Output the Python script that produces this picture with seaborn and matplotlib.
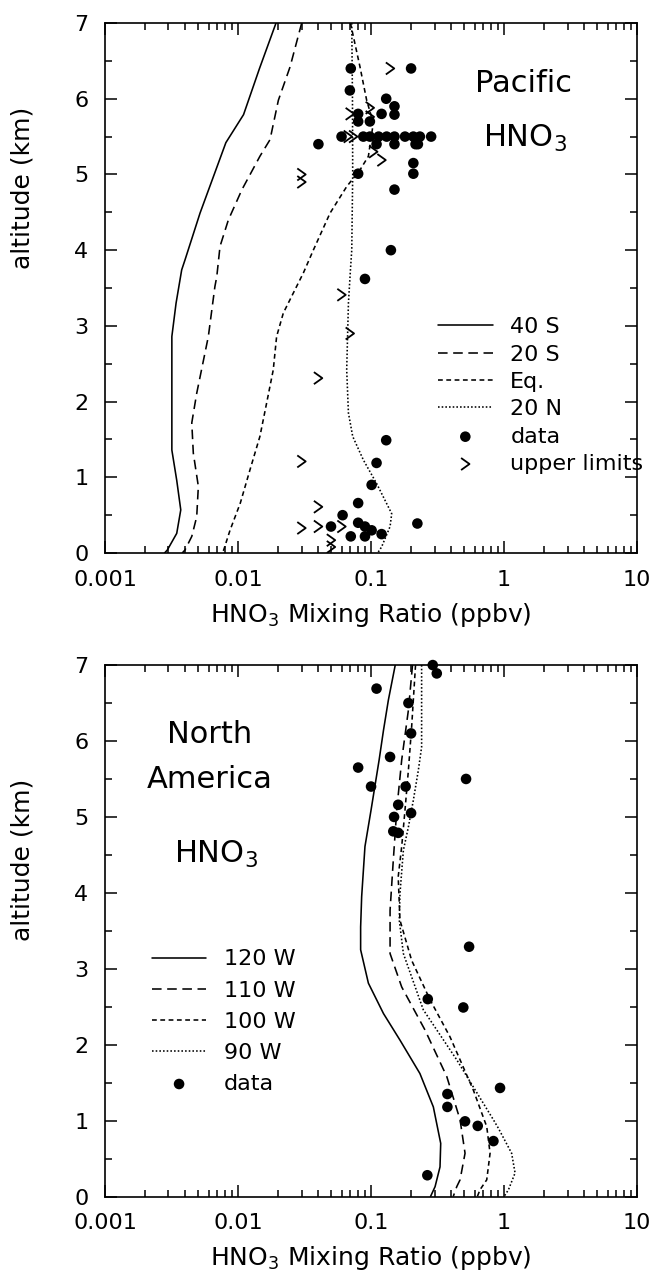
import numpy as np
import pandas as pd
import matplotlib
matplotlib.use("Agg")
import matplotlib.pyplot as plt
from matplotlib.path import Path
from matplotlib.markers import MarkerStyle
from matplotlib.ticker import LogLocator, MultipleLocator, NullFormatter
import seaborn as sns

# ---------------- data ----------------
x_ticks = [0.001, 0.01, 0.1, 1, 10]
x_tick_labels = ["0.001", "0.01", "0.1", "1", "10"]

# Pacific model profiles (altitude km, HNO3 ppbv)
alt_40S = [7.0, 6.40, 5.79, 5.42, 4.49, 3.87, 3.74, 3.30, 2.86, 1.36, 0.96, 0.57, 0.26, 0.04, 0.0]
mr_40S = [0.0193, 0.0145, 0.0110, 0.0081, 0.00518, 0.00399, 0.00377, 0.00342, 0.00318,
          0.00318, 0.00346, 0.00371, 0.00346, 0.00294, 0.0028]
alt_20S = [7.0, 6.42, 5.98, 5.46, 5.24, 4.80, 4.40, 4.05, 3.65, 3.52, 2.86, 2.11, 1.72,
           1.32, 0.88, 0.48, 0.22, 0.04, 0.0]
mr_20S = [0.0301, 0.0246, 0.0201, 0.0174, 0.0146, 0.0107, 0.00846, 0.00732, 0.00692,
          0.0067, 0.00598, 0.00489, 0.00449, 0.00461, 0.00503, 0.00489, 0.00449, 0.00399, 0.0038]
alt_Eq = [7.0, 6.42, 5.98, 5.68, 5.24, 5.06, 4.84, 4.49, 4.00, 3.70, 3.17, 2.86, 2.42,
          1.98, 1.54, 1.10, 0.66, 0.30, 0.04, 0.0]
mr_Eq = [0.070, 0.0826, 0.0927, 0.104, 0.0955, 0.0826, 0.0656, 0.0492, 0.0368, 0.031,
         0.0219, 0.0195, 0.0184, 0.0164, 0.0146, 0.0123, 0.0104, 0.0087, 0.0078, 0.0075]
alt_20N = [7.0, 6.0, 5.0, 4.0, 3.74, 3.30, 2.42, 1.85, 1.54, 1.23, 0.92, 0.52, 0.35, 0.08, 0.0]
mr_20N = [0.0716, 0.0725, 0.0728, 0.0716, 0.070, 0.0676, 0.0656, 0.0676, 0.0728, 0.0875,
          0.110, 0.143, 0.139, 0.120, 0.112]

# Pacific observations
pac_data_mr = [0.0704, 0.200, 0.0693, 0.130, 0.150, 0.150, 0.120, 0.080, 0.080, 0.098,
               0.060, 0.0875, 0.098, 0.114, 0.131, 0.150, 0.180, 0.208, 0.233, 0.283,
               0.0402, 0.110, 0.150, 0.216, 0.225,
               0.208, 0.208, 0.080, 0.150, 0.141, 0.090, 0.130, 0.110, 0.101, 0.080,
               0.0611, 0.050, 0.080, 0.090, 0.101, 0.0704, 0.090, 0.120, 0.223]
pac_data_alt = [6.40, 6.40, 6.11, 6.00, 5.90, 5.79, 5.80, 5.80, 5.70, 5.70,
                5.50, 5.50, 5.50, 5.50, 5.50, 5.50, 5.50, 5.50, 5.50, 5.50,
                5.40, 5.40, 5.40, 5.40, 5.40,
                5.15, 5.01, 5.01, 4.80, 4.00, 3.62, 1.49, 1.19, 0.90, 0.66,
                0.50, 0.35, 0.40, 0.35, 0.30, 0.22, 0.22, 0.25, 0.39]
pac_lim_mr = [0.139, 0.0693, 0.098, 0.098, 0.067, 0.0735, 0.104, 0.120, 0.030, 0.030,
              0.060, 0.0693, 0.040, 0.030, 0.040, 0.030, 0.040, 0.060, 0.050, 0.050]
pac_lim_alt = [6.40, 5.80, 5.88, 5.76, 5.50, 5.50, 5.30, 5.19, 5.00, 4.90,
               3.41, 2.90, 2.31, 1.21, 0.61, 0.33, 0.35, 0.35, 0.17, 0.08]

# North America model profiles
alt_120W = [7.0, 6.54, 6.14, 5.75, 5.09, 4.61, 3.95, 3.55, 3.25, 2.81, 2.41, 2.06, 1.62,
            1.18, 0.70, 0.39, 0.13, 0.0]
mr_120W = [0.152, 0.135, 0.124, 0.115, 0.100, 0.090, 0.085, 0.0835, 0.0835, 0.0955, 0.124,
           0.165, 0.233, 0.294, 0.334, 0.330, 0.303, 0.28]
alt_110W = [7.0, 6.41, 5.75, 5.09, 4.43, 3.77, 3.20, 2.76, 2.19, 1.58, 1.01, 0.57, 0.22, 0.13, 0.0]
mr_110W = [0.205, 0.191, 0.170, 0.156, 0.147, 0.139, 0.139, 0.170, 0.255, 0.371, 0.467,
           0.509, 0.467, 0.441, 0.415]
alt_100W = [7.0, 6.19, 5.62, 5.09, 4.61, 4.21, 3.64, 3.11, 2.59, 2.10, 1.40, 0.92, 0.57,
            0.22, 0.09, 0.0]
mr_100W = [0.216, 0.202, 0.191, 0.180, 0.170, 0.160, 0.165, 0.202, 0.278, 0.393, 0.588,
           0.741, 0.785, 0.741, 0.66, 0.63]
alt_90W = [7.0, 5.92, 5.62, 5.22, 4.87, 4.56, 3.99, 3.64, 3.20, 2.46, 1.80, 1.01, 0.90,
           0.57, 0.31, 0.09, 0.0]
mr_90W = [0.240, 0.240, 0.227, 0.208, 0.191, 0.175, 0.165, 0.163, 0.175, 0.247, 0.441,
          0.832, 0.906, 1.14, 1.21, 1.08, 1.0]

# North America observations
na_data_mr = [0.291, 0.312, 0.110, 0.191, 0.200, 0.139, 0.080, 0.518, 0.100, 0.182,
              0.160, 0.200, 0.149, 0.147, 0.160, 0.546, 0.267, 0.494, 0.933, 0.375,
              0.375, 0.509, 0.634, 0.832, 0.265]
na_data_alt = [7.0, 6.89, 6.69, 6.50, 6.10, 5.79, 5.65, 5.50, 5.40, 5.40,
               5.16, 5.05, 5.00, 4.81, 4.79, 3.29, 2.60, 2.49, 1.43, 1.35,
               1.18, 0.99, 0.93, 0.73, 0.28]

# ---------------- style ----------------
sns.set_style("ticks")
plt.rcParams["font.family"] = ["DejaVu Sans"]
plt.rcParams["mathtext.fontset"] = "dejavusans"
plt.rcParams["axes.linewidth"] = 1.2
for key in ["text.color", "axes.labelcolor", "xtick.color", "ytick.color", "axes.edgecolor"]:
    plt.rcParams[key] = "black"

LS_SOLID = "-"
LS_DASH = (0, (6, 3.5))
LS_FINE = (0, (3, 2.2))
LS_DOT = (0, (1, 1.3))

upper_path = Path([(-0.7, 1.0), (0.7, 0.0), (-0.7, -1.0)],
                  [Path.MOVETO, Path.LINETO, Path.LINETO])
upper_marker = MarkerStyle(upper_path, fillstyle="none")

fig = plt.figure(figsize=(6.54, 12.79), dpi=100)
ax_top = fig.add_axes([0.1606, 0.5676, 0.8135, 0.4144])
ax_bot = fig.add_axes([0.1606, 0.0645, 0.8135, 0.4155])


def profile(ax, mr, alt, ls, label):
    df = pd.DataFrame({"mr": mr, "alt": alt})
    sns.lineplot(data=df, x="mr", y="alt", sort=False, estimator=None, orient="y",
                 ax=ax, color="k", lw=1.15, linestyle=ls, label=label)


def setup_axes(ax):
    ax.set_xscale("log")
    ax.set_xlim(1e-3, 10)
    ax.set_ylim(0, 7)
    ax.set_xticks(x_ticks, x_tick_labels)
    ax.xaxis.set_minor_locator(LogLocator(base=10, subs=np.arange(2, 10), numticks=20))
    ax.xaxis.set_minor_formatter(NullFormatter())
    ax.yaxis.set_major_locator(MultipleLocator(1))
    ax.yaxis.set_minor_locator(MultipleLocator(0.5))
    ax.tick_params(which="both", direction="in", top=True, right=True, width=1.1,
                   labelsize=16, colors="k")
    ax.tick_params(which="major", length=8.5, pad=12)
    ax.tick_params(which="minor", length=5)
    ax.set_xlabel("HNO$_3$ Mixing Ratio (ppbv)", fontsize=18, labelpad=8)
    ax.set_ylabel("altitude (km)", fontsize=18)
    for s in ax.spines.values():
        s.set_linewidth(1.2)
        s.set_color("k")


# ---------------- Pacific ----------------
setup_axes(ax_top)
profile(ax_top, mr_40S, alt_40S, LS_SOLID, "40 S")
profile(ax_top, mr_20S, alt_20S, LS_DASH, "20 S")
profile(ax_top, mr_Eq, alt_Eq, LS_FINE, "Eq.")
profile(ax_top, mr_20N, alt_20N, LS_DOT, "20 N")
sns.scatterplot(x=pac_data_mr, y=pac_data_alt, ax=ax_top, color="k", marker="o", s=58,
                edgecolor="none", label="data", clip_on=False, zorder=3)
sns.scatterplot(x=pac_lim_mr, y=pac_lim_alt, ax=ax_top, color="k", marker=upper_marker,
                s=75, linewidth=1.3, label="upper limits", zorder=3)
ax_top.legend(loc="upper left", bbox_to_anchor=(0.626, 0.445), frameon=False,
              fontsize=16, handlelength=2.45, handletextpad=0.8, labelspacing=0.33,
              borderpad=0, borderaxespad=0, scatterpoints=1)
ax_top.text(0.786, 0.870, "Pacific", transform=ax_top.transAxes, ha="center",
            va="baseline", fontsize=22)
ax_top.text(0.79, 0.767, "HNO$_3$", transform=ax_top.transAxes, ha="center",
            va="baseline", fontsize=22)
ax_top.yaxis.set_label_coords(-0.133, 0.689)

# ---------------- North America ----------------
setup_axes(ax_bot)
profile(ax_bot, mr_120W, alt_120W, LS_SOLID, "120 W")
profile(ax_bot, mr_110W, alt_110W, LS_DASH, "110 W")
profile(ax_bot, mr_100W, alt_100W, LS_FINE, "100 W")
profile(ax_bot, mr_90W, alt_90W, LS_DOT, "90 W")
sns.scatterplot(x=na_data_mr, y=na_data_alt, ax=ax_bot, color="k", marker="o", s=58,
                edgecolor="none", label="data", clip_on=False, zorder=3)
ax_bot.legend(loc="upper left", bbox_to_anchor=(0.088, 0.465), frameon=False,
              fontsize=16, handlelength=2.45, handletextpad=0.8, labelspacing=0.5,
              borderpad=0, borderaxespad=0, scatterpoints=1)
ax_bot.text(0.197, 0.853, "North", transform=ax_bot.transAxes, ha="center",
            va="baseline", fontsize=22)
ax_bot.text(0.196, 0.768, "America", transform=ax_bot.transAxes, ha="center",
            va="baseline", fontsize=22)
ax_bot.text(0.209, 0.627, "HNO$_3$", transform=ax_bot.transAxes, ha="center",
            va="baseline", fontsize=22)
ax_bot.yaxis.set_label_coords(-0.133, 0.633)

fig.savefig("out.png", dpi=100, facecolor="white")
